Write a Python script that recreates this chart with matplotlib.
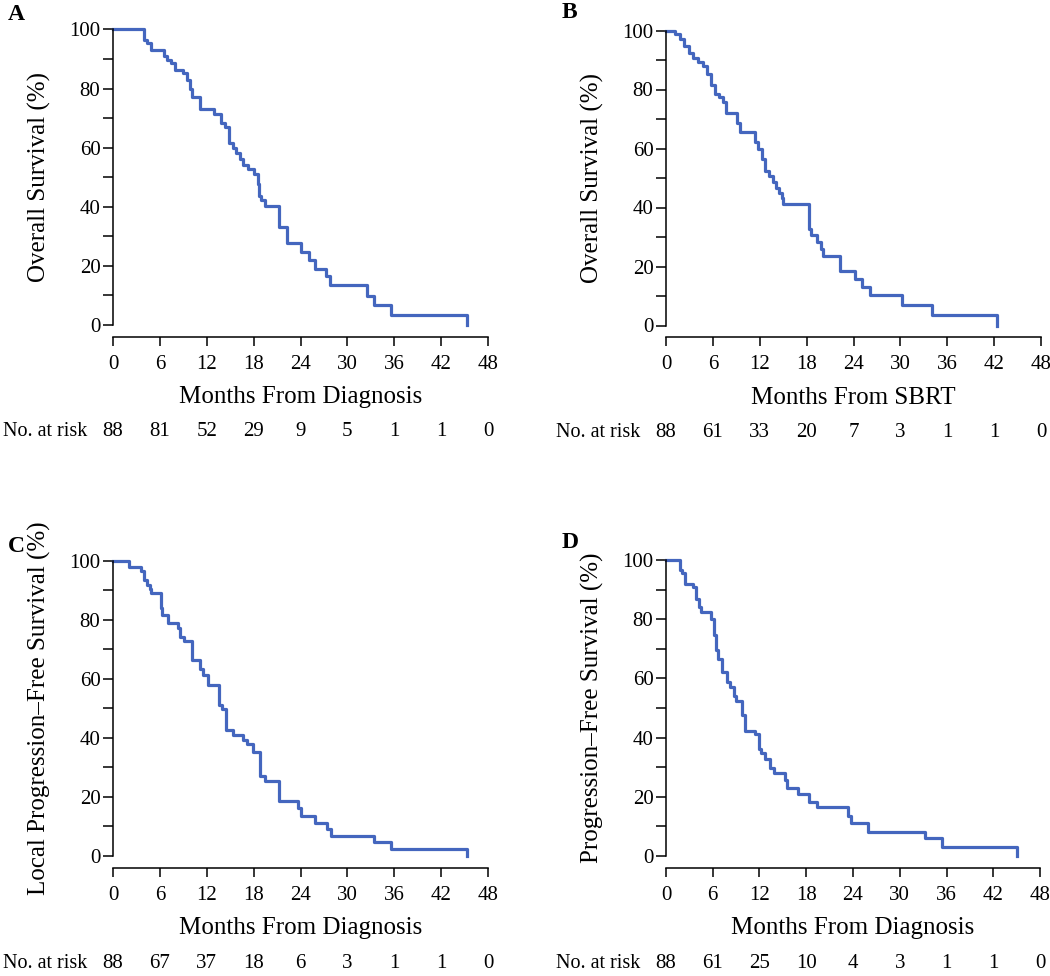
import numpy as np
import matplotlib
matplotlib.use("Agg")
import matplotlib.pyplot as plt

plt.rcParams['font.family'] = ['Liberation Serif', 'DejaVu Serif']

# ---- data (months, survival %) ----
a_time = [0, 4.0, 4.3, 4.8, 6.5, 6.9, 7.4, 7.9, 9.0, 9.5, 9.8, 10.1, 11.1, 12.9, 13.8, 14.3,
          14.8, 15.3, 15.8, 16.2, 16.7, 17.3, 18.0, 18.5, 18.7, 19.0, 19.4, 21.3, 22.3, 24.0,
          25.1, 25.9, 27.3, 27.8, 32.5, 33.4, 35.6, 45.3]
a_surv = [100, 96.6, 95.5, 93.2, 90.9, 89.8, 88.6, 86.4, 85.2, 83.0, 80.0, 77.0, 73.2, 71.5,
          68.4, 67.0, 61.6, 59.9, 58.2, 56.2, 54.2, 52.9, 51.1, 47.7, 43.7, 42.4, 40.3, 33.3,
          27.6, 24.8, 22.0, 18.9, 16.6, 13.5, 9.7, 6.9, 3.5, 0]
a_risk = [88, 81, 52, 29, 9, 5, 1, 1, 0]

b_time = [0, 1.2, 1.8, 2.3, 2.9, 3.5, 4.1, 4.7, 5.2, 5.7, 6.3, 6.8, 7.3, 7.7, 9.1, 9.5, 11.4,
          11.8, 12.3, 12.7, 13.2, 13.7, 14.1, 14.5, 14.8, 15.0, 18.3, 18.6, 19.3, 19.8, 20.1,
          22.3, 24.2, 25.1, 26.1, 30.2, 34.1, 42.4]
b_surv = [100, 98.8, 97.2, 94.6, 92.3, 90.7, 89.2, 87.8, 85.4, 81.5, 78.6, 77.3, 75.8, 71.9,
          68.8, 65.7, 62.3, 59.8, 56.3, 52.5, 50.7, 48.5, 46.5, 44.8, 43.2, 41.2, 32.7, 30.8,
          28.2, 25.9, 23.7, 18.6, 15.8, 13.1, 10.5, 7.0, 3.4, 0]
b_risk = [88, 61, 33, 20, 7, 3, 1, 1, 0]

c_time = [0, 2.0, 3.55, 4.0, 4.4, 4.7, 4.9, 6.1, 6.3, 7.1, 8.3, 8.6, 9.1, 10.05, 11.1, 11.5,
          12.1, 13.6, 14.0, 14.5, 15.3, 16.7, 17.2, 17.9, 18.8, 19.5, 21.3, 23.7, 24.0, 25.9,
          27.4, 27.9, 33.4, 35.6, 45.3]
c_surv = [100, 97.8, 96.4, 93.3, 91.7, 90.4, 89.1, 84.0, 81.6, 78.8, 77.3, 74.2, 72.6, 66.3,
          63.3, 61.3, 58.0, 51.1, 49.8, 42.5, 41.0, 39.1, 37.8, 35.2, 27.0, 25.4, 18.7, 16.1,
          13.5, 11.2, 9.3, 6.9, 4.8, 2.2, 0]
c_risk = [88, 67, 37, 18, 6, 3, 1, 1, 0]

d_time = [0, 1.8, 2.1, 2.4, 3.5, 3.9, 4.2, 4.5, 5.8, 6.1, 6.4, 6.7, 7.2, 7.8, 8.2, 8.7, 9.0,
          9.7, 10.1, 11.4, 11.9, 12.2, 12.7, 13.3, 13.8, 15.3, 15.5, 17.0, 18.4, 19.4, 23.4,
          23.7, 25.9, 33.3, 35.4, 45.1]
d_surv = [100, 96.6, 95.5, 91.9, 90.8, 86.7, 84.2, 82.3, 80.0, 74.7, 69.6, 66.6, 62.3, 58.9,
          57.0, 54.1, 52.5, 47.6, 42.2, 41.1, 36.0, 34.7, 32.7, 29.6, 28.2, 25.7, 22.9, 20.8,
          18.4, 16.4, 13.5, 11.0, 8.2, 6.0, 2.9, 0]
d_risk = [88, 61, 25, 10, 4, 3, 1, 1, 0]

risk_months = [0, 6, 12, 18, 24, 30, 36, 42, 48]
letters = ['A', 'B', 'C', 'D']
ylabels = ['Overall Survival (%)', 'Overall Survival (%)',
           'Local Progression\u2013Free Survival (%)', 'Progression\u2013Free Survival (%)']
xlabels = ['Months From Diagnosis', 'Months From SBRT',
           'Months From Diagnosis', 'Months From Diagnosis']

W, H = 1050, 976
fig = plt.figure(figsize=(W / 100, H / 100), dpi=100)

# axes boxes in pixels: left, right, y of 0, y of 100
boxes = [(113, 488, 325, 29.5), (666, 1041, 325.5, 30.5),
         (113, 488, 856, 560.5), (666, 1040, 856, 560)]
letter_pos = [(8, 15), (562, 12), (8, 546), (562, 543)]
blue = '#4466BE'

panels = [(a_time, a_surv, a_risk), (b_time, b_surv, b_risk),
          (c_time, c_surv, c_risk), (d_time, d_surv, d_risk)]

for i, (t, s, risk) in enumerate(panels):
    l, r, y0, y100 = boxes[i]
    ax = fig.add_axes([l / W, 1 - y0 / H, (r - l) / W, (y0 - y100) / H])
    ax.step(t, s, where='post', color=blue, lw=2.3, clip_on=False)
    ax.set_xlim(0, 48)
    ax.set_ylim(0, 100)
    for sp in ['top', 'right']:
        ax.spines[sp].set_visible(False)
    ax.spines['left'].set_bounds(0, 100)
    ax.spines['bottom'].set_bounds(0, 48)
    ax.spines['bottom'].set_position(('outward', 8.5))
    for sp in ['left', 'bottom']:
        ax.spines[sp].set_linewidth(1.1)
    ax.set_xticks(risk_months)
    ax.set_yticks([0, 20, 40, 60, 80, 100])
    ax.set_yticks([10, 30, 50, 70, 90], minor=True)
    ax.tick_params(axis='x', length=6.5, width=1.1, labelsize=15, pad=6.5)
    ax.tick_params(axis='y', which='both', length=7, width=1.1, labelsize=15, pad=2)
    ax.patch.set_visible(False)

    ph = y0 - y100
    # x label and risk table
    ax.text(0.5, -(397 - 325) / ph, xlabels[i], transform=ax.transAxes,
            ha='center', va='center', fontsize=18)
    ty = -(432 - 325) / ph
    tr = ax.get_xaxis_transform()
    ax.text(-3.3, ty, 'No. at risk', transform=tr, ha='right', va='center',
            fontsize=14.5, clip_on=False)
    for m, n in zip(risk_months, risk):
        ax.text(m, ty, str(n), transform=tr, ha='center', va='center', fontsize=15)

    # y label
    fig.text((l - 74) / W, 1 - (y0 + y100) / 2 / H, ylabels[i], rotation=90,
             ha='center', va='center', fontsize=18)
    lx, ly = letter_pos[i]
    fig.text(lx / W, 1 - ly / H, letters[i], ha='left', va='center',
             fontsize=17, fontweight='bold')

fig.savefig('out.png', dpi=100)
